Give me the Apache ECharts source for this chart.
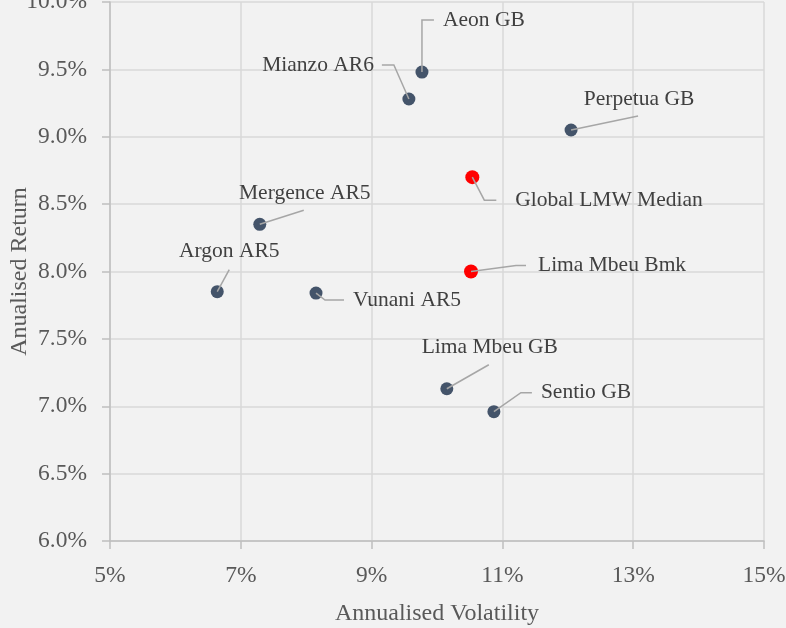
<!DOCTYPE html>
<html>
<head>
<meta charset="utf-8">
<script src="https://cdn.jsdelivr.net/npm/echarts@6/dist/echarts.min.js"></script>
<style>
  html, body { margin: 0; padding: 0; background: #f2f2f2; }
  #chart { width: 786px; height: 628px; }
</style>
</head>
<body>
<div id="chart"></div>
<script>
// funds (dark dots)
var fundNames = ['Aeon GB', 'Mianzo AR6', 'Perpetua GB', 'Mergence AR5', 'Argon AR5', 'Vunani AR5', 'Lima Mbeu GB', 'Sentio GB'];
var fundVolatility = [9.77, 9.57, 12.05, 7.29, 6.64, 8.15, 10.15, 10.87];
var fundReturn = [9.48, 9.28, 9.05, 8.35, 7.85, 7.84, 7.13, 6.96];
// benchmarks (red dots)
var benchNames = ['Global LMW Median', 'Lima Mbeu Bmk'];
var benchVolatility = [10.54, 10.52];
var benchReturn = [8.70, 8.00];
// axis ticks
var xTicks = [5, 7, 9, 11, 13, 15];
var yTicks = [6.0, 6.5, 7.0, 7.5, 8.0, 8.5, 9.0, 9.5, 10.0];

// label placement, in px relative to the dot: text [dx, dy, align], leader line bends
var labelPos = {
  'Aeon GB':           { text: [21, -52, 'left'],   line: [[0, -52], [12, -52]] },
  'Mianzo AR6':        { text: [-35, -34, 'right'], line: [[-15, -34], [-27, -34]] },
  'Perpetua GB':       { text: [68, -31, 'center'], line: [[67, -14]] },
  'Mergence AR5':      { text: [45, -31, 'center'], line: [[44, -14]] },
  'Argon AR5':         { text: [12, -40, 'center'], line: [[12, -22]] },
  'Vunani AR5':        { text: [37, 7, 'left'],     line: [[9, 7], [28, 7]] },
  'Lima Mbeu GB':      { text: [43, -41, 'center'], line: [[42, -24]] },
  'Sentio GB':         { text: [47, -19, 'left'],   line: [[27, -19], [38, -19]] },
  'Global LMW Median': { text: [43, 23, 'left'],    line: [[12, 23], [24, 23]] },
  'Lima Mbeu Bmk':     { text: [67, -6, 'left'],    line: [[45, -6], [55, -6]] }
};

var font = 'Liberation Serif';
var fundData = fundNames.map(function (n, i) { return [fundVolatility[i], fundReturn[i], n]; });
var benchData = benchNames.map(function (n, i) { return [benchVolatility[i], benchReturn[i], n]; });
var allData = fundData.concat(benchData);

function renderLabel(params, api) {
  var name = allData[params.dataIndex][2];
  var lay = labelPos[name];
  var p = api.coord([api.value(0), api.value(1)]);
  var pts = [p].concat(lay.line.map(function (d) { return [p[0] + d[0], p[1] + d[1]]; }));
  return {
    type: 'group',
    children: [
      { type: 'polyline', shape: { points: pts }, style: { stroke: '#a6a6a6', lineWidth: 1.5, fill: null } },
      {
        type: 'text',
        x: p[0] + lay.text[0],
        y: p[1] + lay.text[1],
        style: {
          text: name, align: lay.text[2], verticalAlign: 'middle',
          fill: '#404040', fontSize: 21.5, fontFamily: font
        }
      }
    ]
  };
}

var chart = echarts.init(document.getElementById('chart'));
chart.setOption({
  backgroundColor: '#f2f2f2',
  animation: false,
  grid: { left: 110, right: 22, top: 2, bottom: 87, outerBoundsMode: 'none' },
  xAxis: {
    type: 'value',
    min: xTicks[0], max: xTicks[xTicks.length - 1], interval: xTicks[1] - xTicks[0],
    name: 'Annualised Volatility', nameLocation: 'middle', nameGap: 61, nameMoveOverlap: false,
    nameTextStyle: { color: '#595959', fontSize: 24, fontFamily: font },
    axisLine: { show: true, lineStyle: { color: '#bfbfbf', width: 1.5 } },
    axisTick: { show: true, length: 8, lineStyle: { color: '#bfbfbf', width: 1.5 } },
    axisLabel: { color: '#595959', fontSize: 23.5, fontFamily: font, margin: 23, formatter: function (v) { return v + '%'; } },
    splitLine: { show: true, lineStyle: { color: '#d9d9d9', width: 1.5 } }
  },
  yAxis: {
    type: 'value',
    min: yTicks[0], max: yTicks[yTicks.length - 1], interval: yTicks[1] - yTicks[0],
    name: 'Anualised Return', nameLocation: 'middle', nameGap: 78, nameRotate: 90, nameMoveOverlap: false,
    nameTextStyle: { color: '#595959', fontSize: 24, fontFamily: font },
    axisLine: { show: true, lineStyle: { color: '#bfbfbf', width: 1.5 } },
    axisTick: { show: true, length: 8, lineStyle: { color: '#bfbfbf', width: 1.5 } },
    axisLabel: { color: '#595959', fontSize: 23.5, fontFamily: font, margin: 23, formatter: function (v) { return v.toFixed(1) + '%'; } },
    splitLine: { show: true, lineStyle: { color: '#d9d9d9', width: 1.5 } }
  },
  series: [
    { name: 'Funds', type: 'scatter', data: fundData, symbolSize: 13, itemStyle: { color: '#44546a', opacity: 1 }, z: 3 },
    { name: 'Benchmarks', type: 'scatter', data: benchData, symbolSize: 14, itemStyle: { color: '#ff0000', opacity: 1 }, z: 3 },
    { name: 'Labels', type: 'custom', data: allData, encode: { x: 0, y: 1 }, renderItem: renderLabel, clip: false, silent: true, z: 4 }
  ]
});
</script>
</body>
</html>
